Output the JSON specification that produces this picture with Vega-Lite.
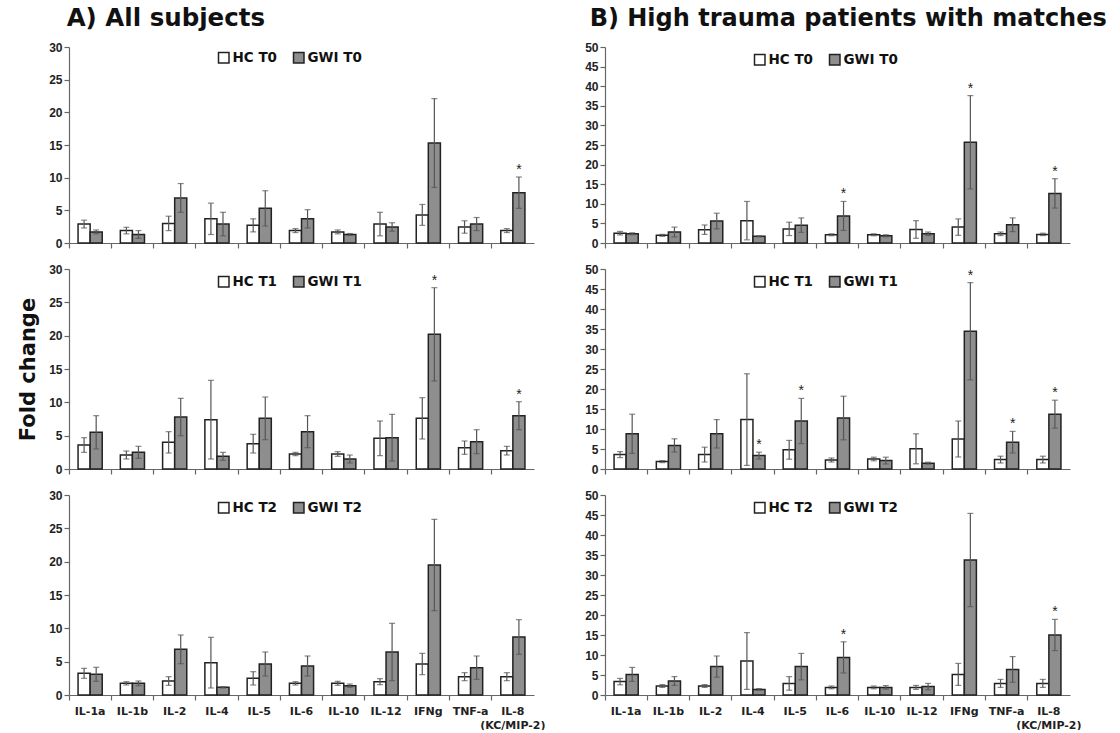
{
  "$schema": "https://vega.github.io/schema/vega-lite/v6.json",
  "background": "white",
  "padding": {"left": 17, "top": 5, "right": 0, "bottom": 0},
  "config": {
    "view": {"stroke": null},
    "font": "Liberation Sans",
    "axis": {
      "labelFont": "Liberation Sans", "labelFontWeight": "bold", "labelColor": "#222",
      "domainColor": "#666", "tickColor": "#666", "tickSize": 5, "grid": false,
      "domainWidth": 1.2, "tickWidth": 1.2, "labelPadding": 2, "labelOverlap": false
    },
    "legend": {
      "orient": "none", "legendX": 148, "legendY": 4, "direction": "horizontal", "title": null,
      "symbolType": "square", "symbolSize": 110, "symbolStrokeColor": "#222", "symbolStrokeWidth": 1.5,
      "labelFont": "DejaVu Sans", "labelFontWeight": "bold", "labelFontSize": 13.5, "labelColor": "#111",
      "columnPadding": 12, "labelOffset": 2
    }
  },
  "data": {"values": [
    {"p":"A1","c":"IL-1a","g":"HC","s":"HC T0","m":2.9,"lo":2.3,"hi":3.5,"sig":0},
    {"p":"A1","c":"IL-1a","g":"GWI","s":"GWI T0","m":1.7,"lo":1.4,"hi":2.0,"sig":0},
    {"p":"A1","c":"IL-1b","g":"HC","s":"HC T0","m":1.9,"lo":1.4,"hi":2.4,"sig":0},
    {"p":"A1","c":"IL-1b","g":"GWI","s":"GWI T0","m":1.3,"lo":0.7,"hi":1.9,"sig":0},
    {"p":"A1","c":"IL-2","g":"HC","s":"HC T0","m":3.0,"lo":1.9,"hi":4.1,"sig":0},
    {"p":"A1","c":"IL-2","g":"GWI","s":"GWI T0","m":6.9,"lo":4.7,"hi":9.1,"sig":0},
    {"p":"A1","c":"IL-4","g":"HC","s":"HC T0","m":3.7,"lo":1.3,"hi":6.1,"sig":0},
    {"p":"A1","c":"IL-4","g":"GWI","s":"GWI T0","m":2.9,"lo":1.1,"hi":4.7,"sig":0},
    {"p":"A1","c":"IL-5","g":"HC","s":"HC T0","m":2.7,"lo":1.7,"hi":3.7,"sig":0},
    {"p":"A1","c":"IL-5","g":"GWI","s":"GWI T0","m":5.3,"lo":2.6,"hi":8.0,"sig":0},
    {"p":"A1","c":"IL-6","g":"HC","s":"HC T0","m":1.9,"lo":1.6,"hi":2.2,"sig":0},
    {"p":"A1","c":"IL-6","g":"GWI","s":"GWI T0","m":3.7,"lo":2.3,"hi":5.1,"sig":0},
    {"p":"A1","c":"IL-10","g":"HC","s":"HC T0","m":1.7,"lo":1.4,"hi":2.0,"sig":0},
    {"p":"A1","c":"IL-10","g":"GWI","s":"GWI T0","m":1.3,"lo":1.15,"hi":1.45,"sig":0},
    {"p":"A1","c":"IL-12","g":"HC","s":"HC T0","m":2.9,"lo":1.1,"hi":4.7,"sig":0},
    {"p":"A1","c":"IL-12","g":"GWI","s":"GWI T0","m":2.45,"lo":1.8,"hi":3.1,"sig":0},
    {"p":"A1","c":"IFNg","g":"HC","s":"HC T0","m":4.3,"lo":2.7,"hi":5.9,"sig":0},
    {"p":"A1","c":"IFNg","g":"GWI","s":"GWI T0","m":15.3,"lo":8.5,"hi":22.1,"sig":0},
    {"p":"A1","c":"TNF-a","g":"HC","s":"HC T0","m":2.45,"lo":1.5,"hi":3.4,"sig":0},
    {"p":"A1","c":"TNF-a","g":"GWI","s":"GWI T0","m":2.9,"lo":1.9,"hi":3.9,"sig":0},
    {"p":"A1","c":"IL-8","g":"HC","s":"HC T0","m":1.9,"lo":1.6,"hi":2.2,"sig":0},
    {"p":"A1","c":"IL-8","g":"GWI","s":"GWI T0","m":7.7,"lo":5.3,"hi":10.1,"sig":1},

    {"p":"A2","c":"IL-1a","g":"HC","s":"HC T1","m":3.6,"lo":2.5,"hi":4.7,"sig":0},
    {"p":"A2","c":"IL-1a","g":"GWI","s":"GWI T1","m":5.5,"lo":3.0,"hi":8.0,"sig":0},
    {"p":"A2","c":"IL-1b","g":"HC","s":"HC T1","m":2.1,"lo":1.5,"hi":2.7,"sig":0},
    {"p":"A2","c":"IL-1b","g":"GWI","s":"GWI T1","m":2.5,"lo":1.6,"hi":3.4,"sig":0},
    {"p":"A2","c":"IL-2","g":"HC","s":"HC T1","m":4.0,"lo":2.4,"hi":5.6,"sig":0},
    {"p":"A2","c":"IL-2","g":"GWI","s":"GWI T1","m":7.8,"lo":5.0,"hi":10.6,"sig":0},
    {"p":"A2","c":"IL-4","g":"HC","s":"HC T1","m":7.4,"lo":1.5,"hi":13.3,"sig":0},
    {"p":"A2","c":"IL-4","g":"GWI","s":"GWI T1","m":1.9,"lo":1.3,"hi":2.5,"sig":0},
    {"p":"A2","c":"IL-5","g":"HC","s":"HC T1","m":3.8,"lo":2.4,"hi":5.2,"sig":0},
    {"p":"A2","c":"IL-5","g":"GWI","s":"GWI T1","m":7.6,"lo":4.4,"hi":10.8,"sig":0},
    {"p":"A2","c":"IL-6","g":"HC","s":"HC T1","m":2.25,"lo":2.0,"hi":2.5,"sig":0},
    {"p":"A2","c":"IL-6","g":"GWI","s":"GWI T1","m":5.6,"lo":3.2,"hi":8.0,"sig":0},
    {"p":"A2","c":"IL-10","g":"HC","s":"HC T1","m":2.25,"lo":1.9,"hi":2.6,"sig":0},
    {"p":"A2","c":"IL-10","g":"GWI","s":"GWI T1","m":1.5,"lo":0.9,"hi":2.1,"sig":0},
    {"p":"A2","c":"IL-12","g":"HC","s":"HC T1","m":4.6,"lo":2.0,"hi":7.2,"sig":0},
    {"p":"A2","c":"IL-12","g":"GWI","s":"GWI T1","m":4.7,"lo":1.2,"hi":8.2,"sig":0},
    {"p":"A2","c":"IFNg","g":"HC","s":"HC T1","m":7.6,"lo":4.5,"hi":10.7,"sig":0},
    {"p":"A2","c":"IFNg","g":"GWI","s":"GWI T1","m":20.2,"lo":13.2,"hi":27.2,"sig":1},
    {"p":"A2","c":"TNF-a","g":"HC","s":"HC T1","m":3.2,"lo":2.2,"hi":4.2,"sig":0},
    {"p":"A2","c":"TNF-a","g":"GWI","s":"GWI T1","m":4.1,"lo":2.3,"hi":5.9,"sig":0},
    {"p":"A2","c":"IL-8","g":"HC","s":"HC T1","m":2.75,"lo":2.1,"hi":3.4,"sig":0},
    {"p":"A2","c":"IL-8","g":"GWI","s":"GWI T1","m":8.0,"lo":5.9,"hi":10.1,"sig":1},

    {"p":"A3","c":"IL-1a","g":"HC","s":"HC T2","m":3.25,"lo":2.5,"hi":4.0,"sig":0},
    {"p":"A3","c":"IL-1a","g":"GWI","s":"GWI T2","m":3.1,"lo":2.05,"hi":4.15,"sig":0},
    {"p":"A3","c":"IL-1b","g":"HC","s":"HC T2","m":1.75,"lo":1.5,"hi":2.0,"sig":0},
    {"p":"A3","c":"IL-1b","g":"GWI","s":"GWI T2","m":1.75,"lo":1.4,"hi":2.1,"sig":0},
    {"p":"A3","c":"IL-2","g":"HC","s":"HC T2","m":2.1,"lo":1.45,"hi":2.75,"sig":0},
    {"p":"A3","c":"IL-2","g":"GWI","s":"GWI T2","m":6.85,"lo":4.7,"hi":9.0,"sig":0},
    {"p":"A3","c":"IL-4","g":"HC","s":"HC T2","m":4.85,"lo":1.05,"hi":8.65,"sig":0},
    {"p":"A3","c":"IL-4","g":"GWI","s":"GWI T2","m":1.15,"lo":1.05,"hi":1.25,"sig":0},
    {"p":"A3","c":"IL-5","g":"HC","s":"HC T2","m":2.5,"lo":1.5,"hi":3.5,"sig":0},
    {"p":"A3","c":"IL-5","g":"GWI","s":"GWI T2","m":4.65,"lo":2.85,"hi":6.45,"sig":0},
    {"p":"A3","c":"IL-6","g":"HC","s":"HC T2","m":1.75,"lo":1.5,"hi":2.0,"sig":0},
    {"p":"A3","c":"IL-6","g":"GWI","s":"GWI T2","m":4.35,"lo":2.85,"hi":5.85,"sig":0},
    {"p":"A3","c":"IL-10","g":"HC","s":"HC T2","m":1.75,"lo":1.45,"hi":2.05,"sig":0},
    {"p":"A3","c":"IL-10","g":"GWI","s":"GWI T2","m":1.4,"lo":1.15,"hi":1.65,"sig":0},
    {"p":"A3","c":"IL-12","g":"HC","s":"HC T2","m":2.0,"lo":1.55,"hi":2.45,"sig":0},
    {"p":"A3","c":"IL-12","g":"GWI","s":"GWI T2","m":6.45,"lo":2.15,"hi":10.75,"sig":0},
    {"p":"A3","c":"IFNg","g":"HC","s":"HC T2","m":4.65,"lo":3.05,"hi":6.25,"sig":0},
    {"p":"A3","c":"IFNg","g":"GWI","s":"GWI T2","m":19.5,"lo":12.65,"hi":26.35,"sig":0},
    {"p":"A3","c":"TNF-a","g":"HC","s":"HC T2","m":2.75,"lo":2.15,"hi":3.35,"sig":0},
    {"p":"A3","c":"TNF-a","g":"GWI","s":"GWI T2","m":4.1,"lo":2.35,"hi":5.85,"sig":0},
    {"p":"A3","c":"IL-8","g":"HC","s":"HC T2","m":2.75,"lo":2.15,"hi":3.35,"sig":0},
    {"p":"A3","c":"IL-8","g":"GWI","s":"GWI T2","m":8.7,"lo":6.1,"hi":11.3,"sig":0},

    {"p":"B1","c":"IL-1a","g":"HC","s":"HC T0","m":2.5,"lo":2.05,"hi":2.95,"sig":0},
    {"p":"B1","c":"IL-1a","g":"GWI","s":"GWI T0","m":2.35,"lo":2.1,"hi":2.6,"sig":0},
    {"p":"B1","c":"IL-1b","g":"HC","s":"HC T0","m":1.95,"lo":1.7,"hi":2.2,"sig":0},
    {"p":"B1","c":"IL-1b","g":"GWI","s":"GWI T0","m":2.8,"lo":1.55,"hi":4.05,"sig":0},
    {"p":"B1","c":"IL-2","g":"HC","s":"HC T0","m":3.4,"lo":2.2,"hi":4.6,"sig":0},
    {"p":"B1","c":"IL-2","g":"GWI","s":"GWI T0","m":5.6,"lo":3.6,"hi":7.6,"sig":0},
    {"p":"B1","c":"IL-4","g":"HC","s":"HC T0","m":5.7,"lo":0.8,"hi":10.6,"sig":0},
    {"p":"B1","c":"IL-4","g":"GWI","s":"GWI T0","m":1.7,"lo":1.55,"hi":1.85,"sig":0},
    {"p":"B1","c":"IL-5","g":"HC","s":"HC T0","m":3.6,"lo":1.9,"hi":5.3,"sig":0},
    {"p":"B1","c":"IL-5","g":"GWI","s":"GWI T0","m":4.55,"lo":2.7,"hi":6.4,"sig":0},
    {"p":"B1","c":"IL-6","g":"HC","s":"HC T0","m":2.1,"lo":1.85,"hi":2.35,"sig":0},
    {"p":"B1","c":"IL-6","g":"GWI","s":"GWI T0","m":6.9,"lo":3.2,"hi":10.6,"sig":1},
    {"p":"B1","c":"IL-10","g":"HC","s":"HC T0","m":2.1,"lo":1.85,"hi":2.35,"sig":0},
    {"p":"B1","c":"IL-10","g":"GWI","s":"GWI T0","m":1.85,"lo":1.6,"hi":2.1,"sig":0},
    {"p":"B1","c":"IL-12","g":"HC","s":"HC T0","m":3.45,"lo":1.2,"hi":5.7,"sig":0},
    {"p":"B1","c":"IL-12","g":"GWI","s":"GWI T0","m":2.35,"lo":1.9,"hi":2.8,"sig":0},
    {"p":"B1","c":"IFNg","g":"HC","s":"HC T0","m":4.05,"lo":1.95,"hi":6.15,"sig":0},
    {"p":"B1","c":"IFNg","g":"GWI","s":"GWI T0","m":25.7,"lo":13.8,"hi":37.6,"sig":1},
    {"p":"B1","c":"TNF-a","g":"HC","s":"HC T0","m":2.35,"lo":1.9,"hi":2.8,"sig":0},
    {"p":"B1","c":"TNF-a","g":"GWI","s":"GWI T0","m":4.65,"lo":2.9,"hi":6.4,"sig":0},
    {"p":"B1","c":"IL-8","g":"HC","s":"HC T0","m":2.2,"lo":1.9,"hi":2.5,"sig":0},
    {"p":"B1","c":"IL-8","g":"GWI","s":"GWI T0","m":12.65,"lo":8.9,"hi":16.4,"sig":1},

    {"p":"B2","c":"IL-1a","g":"HC","s":"HC T1","m":3.6,"lo":2.85,"hi":4.35,"sig":0},
    {"p":"B2","c":"IL-1a","g":"GWI","s":"GWI T1","m":8.8,"lo":3.9,"hi":13.7,"sig":0},
    {"p":"B2","c":"IL-1b","g":"HC","s":"HC T1","m":1.85,"lo":1.6,"hi":2.1,"sig":0},
    {"p":"B2","c":"IL-1b","g":"GWI","s":"GWI T1","m":5.9,"lo":4.25,"hi":7.55,"sig":0},
    {"p":"B2","c":"IL-2","g":"HC","s":"HC T1","m":3.6,"lo":1.75,"hi":5.45,"sig":0},
    {"p":"B2","c":"IL-2","g":"GWI","s":"GWI T1","m":8.8,"lo":5.25,"hi":12.35,"sig":0},
    {"p":"B2","c":"IL-4","g":"HC","s":"HC T1","m":12.35,"lo":0.9,"hi":23.8,"sig":0},
    {"p":"B2","c":"IL-4","g":"GWI","s":"GWI T1","m":3.35,"lo":2.5,"hi":4.2,"sig":1},
    {"p":"B2","c":"IL-5","g":"HC","s":"HC T1","m":4.8,"lo":2.45,"hi":7.15,"sig":0},
    {"p":"B2","c":"IL-5","g":"GWI","s":"GWI T1","m":12.0,"lo":6.35,"hi":17.65,"sig":1},
    {"p":"B2","c":"IL-6","g":"HC","s":"HC T1","m":2.25,"lo":1.75,"hi":2.75,"sig":0},
    {"p":"B2","c":"IL-6","g":"GWI","s":"GWI T1","m":12.75,"lo":7.3,"hi":18.2,"sig":0},
    {"p":"B2","c":"IL-10","g":"HC","s":"HC T1","m":2.5,"lo":2.05,"hi":2.95,"sig":0},
    {"p":"B2","c":"IL-10","g":"GWI","s":"GWI T1","m":2.1,"lo":1.25,"hi":2.95,"sig":0},
    {"p":"B2","c":"IL-12","g":"HC","s":"HC T1","m":5.05,"lo":1.3,"hi":8.8,"sig":0},
    {"p":"B2","c":"IL-12","g":"GWI","s":"GWI T1","m":1.45,"lo":1.2,"hi":1.7,"sig":0},
    {"p":"B2","c":"IFNg","g":"HC","s":"HC T1","m":7.5,"lo":3.0,"hi":12.0,"sig":0},
    {"p":"B2","c":"IFNg","g":"GWI","s":"GWI T1","m":34.45,"lo":22.3,"hi":46.6,"sig":1},
    {"p":"B2","c":"TNF-a","g":"HC","s":"HC T1","m":2.35,"lo":1.5,"hi":3.2,"sig":0},
    {"p":"B2","c":"TNF-a","g":"GWI","s":"GWI T1","m":6.7,"lo":4.0,"hi":9.4,"sig":1},
    {"p":"B2","c":"IL-8","g":"HC","s":"HC T1","m":2.35,"lo":1.5,"hi":3.2,"sig":0},
    {"p":"B2","c":"IL-8","g":"GWI","s":"GWI T1","m":13.7,"lo":10.2,"hi":17.2,"sig":1},

    {"p":"B3","c":"IL-1a","g":"HC","s":"HC T2","m":3.35,"lo":2.55,"hi":4.15,"sig":0},
    {"p":"B3","c":"IL-1a","g":"GWI","s":"GWI T2","m":5.15,"lo":3.4,"hi":6.9,"sig":0},
    {"p":"B3","c":"IL-1b","g":"HC","s":"HC T2","m":2.25,"lo":1.9,"hi":2.6,"sig":0},
    {"p":"B3","c":"IL-1b","g":"GWI","s":"GWI T2","m":3.5,"lo":2.4,"hi":4.6,"sig":0},
    {"p":"B3","c":"IL-2","g":"HC","s":"HC T2","m":2.25,"lo":1.9,"hi":2.6,"sig":0},
    {"p":"B3","c":"IL-2","g":"GWI","s":"GWI T2","m":7.1,"lo":4.45,"hi":9.75,"sig":0},
    {"p":"B3","c":"IL-4","g":"HC","s":"HC T2","m":8.5,"lo":1.4,"hi":15.6,"sig":0},
    {"p":"B3","c":"IL-4","g":"GWI","s":"GWI T2","m":1.4,"lo":1.2,"hi":1.6,"sig":0},
    {"p":"B3","c":"IL-5","g":"HC","s":"HC T2","m":2.9,"lo":1.2,"hi":4.6,"sig":0},
    {"p":"B3","c":"IL-5","g":"GWI","s":"GWI T2","m":7.1,"lo":3.8,"hi":10.4,"sig":0},
    {"p":"B3","c":"IL-6","g":"HC","s":"HC T2","m":1.9,"lo":1.55,"hi":2.25,"sig":0},
    {"p":"B3","c":"IL-6","g":"GWI","s":"GWI T2","m":9.4,"lo":5.5,"hi":13.3,"sig":1},
    {"p":"B3","c":"IL-10","g":"HC","s":"HC T2","m":1.9,"lo":1.55,"hi":2.25,"sig":0},
    {"p":"B3","c":"IL-10","g":"GWI","s":"GWI T2","m":1.9,"lo":1.45,"hi":2.35,"sig":0},
    {"p":"B3","c":"IL-12","g":"HC","s":"HC T2","m":1.9,"lo":1.4,"hi":2.4,"sig":0},
    {"p":"B3","c":"IL-12","g":"GWI","s":"GWI T2","m":2.1,"lo":1.3,"hi":2.9,"sig":0},
    {"p":"B3","c":"IFNg","g":"HC","s":"HC T2","m":5.15,"lo":2.4,"hi":7.9,"sig":0},
    {"p":"B3","c":"IFNg","g":"GWI","s":"GWI T2","m":33.75,"lo":22.1,"hi":45.4,"sig":0},
    {"p":"B3","c":"TNF-a","g":"HC","s":"HC T2","m":2.9,"lo":1.9,"hi":3.9,"sig":0},
    {"p":"B3","c":"TNF-a","g":"GWI","s":"GWI T2","m":6.4,"lo":3.2,"hi":9.6,"sig":0},
    {"p":"B3","c":"IL-8","g":"HC","s":"HC T2","m":2.9,"lo":1.9,"hi":3.9,"sig":0},
    {"p":"B3","c":"IL-8","g":"GWI","s":"GWI T2","m":15.0,"lo":11.1,"hi":18.9,"sig":1}
  ]},
  "resolve": {"scale": {"color": "independent", "y": "independent"}, "legend": {"color": "independent"}},
  "spacing": 38,
  "hconcat": [
    {
      "title": {"text": "A) All subjects", "anchor": "start", "fontSize": 24.5, "fontWeight": "bold", "font": "DejaVu Sans", "color": "#111", "offset": 10, "dx": 49},
      "spacing": 14,
      "resolve": {"scale": {"color": "independent", "y": "independent"}, "legend": {"color": "independent"}},
      "vconcat": [
        {
          "width": 465, "height": 196,
          "transform": [{"filter": "datum.p == 'A1'"}],
          "encoding": {
            "x": {"field": "c", "type": "nominal", "sort": ["IL-1a","IL-1b","IL-2","IL-4","IL-5","IL-6","IL-10","IL-12","IFNg","TNF-a","IL-8"], "scale": {"paddingInner": 0, "paddingOuter": 0}, "axis": {"title": null, "labels": false, "bandPosition": 0}},
            "xOffset": {"field": "g", "type": "nominal", "sort": ["HC","GWI"], "scale": {"paddingInner": 0, "paddingOuter": 0.75}}
          },
          "layer": [
            {"mark": {"type": "bar", "stroke": "#222", "strokeWidth": 1.5},
             "encoding": {
               "y": {"field": "m", "type": "quantitative", "scale": {"domain": [0, 30]}, "axis": {"title": null, "values": [0,5,10,15,20,25,30], "labelFontSize": 12}},
               "color": {"field": "s", "type": "nominal", "scale": {"domain": ["HC T0","GWI T0"], "range": ["white","#8e8e8e"]}, "legend": {"legendY": 4}}
             }},
            {"mark": {"type": "rule", "color": "#555", "strokeWidth": 1.2}, "encoding": {"y": {"field": "lo", "type": "quantitative", "scale": {"domain": [0, 30]}, "axis": {"title": null, "values": [0,5,10,15,20,25,30], "labelFontSize": 12}}, "y2": {"field": "hi"}}},
            {"mark": {"type": "tick", "color": "#555", "size": 6, "thickness": 1.2}, "encoding": {"y": {"field": "hi", "type": "quantitative", "scale": {"domain": [0, 30]}, "axis": {"title": null, "values": [0,5,10,15,20,25,30], "labelFontSize": 12}}}},
            {"mark": {"type": "tick", "color": "#555", "size": 6, "thickness": 1.2}, "encoding": {"y": {"field": "lo", "type": "quantitative", "scale": {"domain": [0, 30]}, "axis": {"title": null, "values": [0,5,10,15,20,25,30], "labelFontSize": 12}}}},
            {"transform": [{"filter": "datum.sig == 1"}], "mark": {"type": "text", "text": "*", "dy": -7, "fontSize": 14, "color": "#222"}, "encoding": {"y": {"field": "hi", "type": "quantitative", "scale": {"domain": [0, 30]}, "axis": {"title": null, "values": [0,5,10,15,20,25,30], "labelFontSize": 12}}}}
          ]
        },
        {
          "width": 465, "height": 200,
          "transform": [{"filter": "datum.p == 'A2'"}],
          "encoding": {
            "x": {"field": "c", "type": "nominal", "sort": ["IL-1a","IL-1b","IL-2","IL-4","IL-5","IL-6","IL-10","IL-12","IFNg","TNF-a","IL-8"], "scale": {"paddingInner": 0, "paddingOuter": 0}, "axis": {"title": null, "labels": false, "bandPosition": 0}},
            "xOffset": {"field": "g", "type": "nominal", "sort": ["HC","GWI"], "scale": {"paddingInner": 0, "paddingOuter": 0.75}}
          },
          "layer": [
            {"mark": {"type": "bar", "stroke": "#222", "strokeWidth": 1.5},
             "encoding": {
               "y": {"field": "m", "type": "quantitative", "scale": {"domain": [0, 30]}, "axis": {"title": "Fold change", "titleFontSize": 21, "titleFontWeight": "bold", "titleFont": "DejaVu Sans", "titleColor": "#111", "titlePadding": 10, "values": [0,5,10,15,20,25,30], "labelFontSize": 12}},
               "color": {"field": "s", "type": "nominal", "scale": {"domain": ["HC T1","GWI T1"], "range": ["white","#8e8e8e"]}, "legend": {"legendY": 6}}
             }},
            {"mark": {"type": "rule", "color": "#555", "strokeWidth": 1.2}, "encoding": {"y": {"field": "lo", "type": "quantitative", "scale": {"domain": [0, 30]}, "axis": {"title": "Fold change", "titleFontSize": 21, "titleFontWeight": "bold", "titleFont": "DejaVu Sans", "titleColor": "#111", "titlePadding": 10, "values": [0,5,10,15,20,25,30], "labelFontSize": 12}}, "y2": {"field": "hi"}}},
            {"mark": {"type": "tick", "color": "#555", "size": 6, "thickness": 1.2}, "encoding": {"y": {"field": "hi", "type": "quantitative", "scale": {"domain": [0, 30]}, "axis": {"title": "Fold change", "titleFontSize": 21, "titleFontWeight": "bold", "titleFont": "DejaVu Sans", "titleColor": "#111", "titlePadding": 10, "values": [0,5,10,15,20,25,30], "labelFontSize": 12}}}},
            {"mark": {"type": "tick", "color": "#555", "size": 6, "thickness": 1.2}, "encoding": {"y": {"field": "lo", "type": "quantitative", "scale": {"domain": [0, 30]}, "axis": {"title": "Fold change", "titleFontSize": 21, "titleFontWeight": "bold", "titleFont": "DejaVu Sans", "titleColor": "#111", "titlePadding": 10, "values": [0,5,10,15,20,25,30], "labelFontSize": 12}}}},
            {"transform": [{"filter": "datum.sig == 1"}], "mark": {"type": "text", "text": "*", "dy": -7, "fontSize": 14, "color": "#222"}, "encoding": {"y": {"field": "hi", "type": "quantitative", "scale": {"domain": [0, 30]}, "axis": {"title": "Fold change", "titleFontSize": 21, "titleFontWeight": "bold", "titleFont": "DejaVu Sans", "titleColor": "#111", "titlePadding": 10, "values": [0,5,10,15,20,25,30], "labelFontSize": 12}}}}
          ]
        },
        {
          "width": 465, "height": 200,
          "transform": [{"filter": "datum.p == 'A3'"}],
          "encoding": {
            "x": {"field": "c", "type": "nominal", "sort": ["IL-1a","IL-1b","IL-2","IL-4","IL-5","IL-6","IL-10","IL-12","IFNg","TNF-a","IL-8"], "scale": {"paddingInner": 0, "paddingOuter": 0}, "axis": {"title": null, "labelAngle": 0, "labelFont": "DejaVu Sans", "labelFontSize": 11, "labelPadding": 5, "labelLineHeight": 14, "bandPosition": 0, "labelExpr": "datum.value == 'IL-8' ? ['IL-8', '(KC/MIP-2)'] : datum.value"}},
            "xOffset": {"field": "g", "type": "nominal", "sort": ["HC","GWI"], "scale": {"paddingInner": 0, "paddingOuter": 0.75}}
          },
          "layer": [
            {"mark": {"type": "bar", "stroke": "#222", "strokeWidth": 1.5},
             "encoding": {
               "y": {"field": "m", "type": "quantitative", "scale": {"domain": [0, 30]}, "axis": {"title": null, "values": [0,5,10,15,20,25,30], "labelFontSize": 12}},
               "color": {"field": "s", "type": "nominal", "scale": {"domain": ["HC T2","GWI T2"], "range": ["white","#8e8e8e"]}, "legend": {"legendY": 6}}
             }},
            {"mark": {"type": "rule", "color": "#555", "strokeWidth": 1.2}, "encoding": {"y": {"field": "lo", "type": "quantitative", "scale": {"domain": [0, 30]}, "axis": {"title": null, "values": [0,5,10,15,20,25,30], "labelFontSize": 12}}, "y2": {"field": "hi"}}},
            {"mark": {"type": "tick", "color": "#555", "size": 6, "thickness": 1.2}, "encoding": {"y": {"field": "hi", "type": "quantitative", "scale": {"domain": [0, 30]}, "axis": {"title": null, "values": [0,5,10,15,20,25,30], "labelFontSize": 12}}}},
            {"mark": {"type": "tick", "color": "#555", "size": 6, "thickness": 1.2}, "encoding": {"y": {"field": "lo", "type": "quantitative", "scale": {"domain": [0, 30]}, "axis": {"title": null, "values": [0,5,10,15,20,25,30], "labelFontSize": 12}}}},
            {"transform": [{"filter": "datum.sig == 1"}], "mark": {"type": "text", "text": "*", "dy": -7, "fontSize": 14, "color": "#222"}, "encoding": {"y": {"field": "hi", "type": "quantitative", "scale": {"domain": [0, 30]}, "axis": {"title": null, "values": [0,5,10,15,20,25,30], "labelFontSize": 12}}}}
          ]
        }
      ]
    },
    {
      "title": {"text": "B) High trauma patients with matches", "anchor": "start", "fontSize": 24, "fontWeight": "bold", "font": "DejaVu Sans", "color": "#111", "offset": 10, "dx": 5},
      "spacing": 14,
      "resolve": {"scale": {"color": "independent", "y": "independent"}, "legend": {"color": "independent"}},
      "vconcat": [
        {
          "width": 465, "height": 196,
          "transform": [{"filter": "datum.p == 'B1'"}],
          "encoding": {
            "x": {"field": "c", "type": "nominal", "sort": ["IL-1a","IL-1b","IL-2","IL-4","IL-5","IL-6","IL-10","IL-12","IFNg","TNF-a","IL-8"], "scale": {"paddingInner": 0, "paddingOuter": 0}, "axis": {"title": null, "labels": false, "bandPosition": 0}},
            "xOffset": {"field": "g", "type": "nominal", "sort": ["HC","GWI"], "scale": {"paddingInner": 0, "paddingOuter": 0.75}}
          },
          "layer": [
            {"mark": {"type": "bar", "stroke": "#222", "strokeWidth": 1.5},
             "encoding": {
               "y": {"field": "m", "type": "quantitative", "scale": {"domain": [0, 50]}, "axis": {"title": null, "values": [0,5,10,15,20,25,30,35,40,45,50], "labelFontSize": 12}},
               "color": {"field": "s", "type": "nominal", "scale": {"domain": ["HC T0","GWI T0"], "range": ["white","#8e8e8e"]}, "legend": {"legendY": 6}}
             }},
            {"mark": {"type": "rule", "color": "#555", "strokeWidth": 1.2}, "encoding": {"y": {"field": "lo", "type": "quantitative", "scale": {"domain": [0, 50]}, "axis": {"title": null, "values": [0,5,10,15,20,25,30,35,40,45,50], "labelFontSize": 12}}, "y2": {"field": "hi"}}},
            {"mark": {"type": "tick", "color": "#555", "size": 6, "thickness": 1.2}, "encoding": {"y": {"field": "hi", "type": "quantitative", "scale": {"domain": [0, 50]}, "axis": {"title": null, "values": [0,5,10,15,20,25,30,35,40,45,50], "labelFontSize": 12}}}},
            {"mark": {"type": "tick", "color": "#555", "size": 6, "thickness": 1.2}, "encoding": {"y": {"field": "lo", "type": "quantitative", "scale": {"domain": [0, 50]}, "axis": {"title": null, "values": [0,5,10,15,20,25,30,35,40,45,50], "labelFontSize": 12}}}},
            {"transform": [{"filter": "datum.sig == 1"}], "mark": {"type": "text", "text": "*", "dy": -7, "fontSize": 14, "color": "#222"}, "encoding": {"y": {"field": "hi", "type": "quantitative", "scale": {"domain": [0, 50]}, "axis": {"title": null, "values": [0,5,10,15,20,25,30,35,40,45,50], "labelFontSize": 12}}}}
          ]
        },
        {
          "width": 465, "height": 200,
          "transform": [{"filter": "datum.p == 'B2'"}],
          "encoding": {
            "x": {"field": "c", "type": "nominal", "sort": ["IL-1a","IL-1b","IL-2","IL-4","IL-5","IL-6","IL-10","IL-12","IFNg","TNF-a","IL-8"], "scale": {"paddingInner": 0, "paddingOuter": 0}, "axis": {"title": null, "labels": false, "bandPosition": 0}},
            "xOffset": {"field": "g", "type": "nominal", "sort": ["HC","GWI"], "scale": {"paddingInner": 0, "paddingOuter": 0.75}}
          },
          "layer": [
            {"mark": {"type": "bar", "stroke": "#222", "strokeWidth": 1.5},
             "encoding": {
               "y": {"field": "m", "type": "quantitative", "scale": {"domain": [0, 50]}, "axis": {"title": null, "values": [0,5,10,15,20,25,30,35,40,45,50], "labelFontSize": 12}},
               "color": {"field": "s", "type": "nominal", "scale": {"domain": ["HC T1","GWI T1"], "range": ["white","#8e8e8e"]}, "legend": {"legendY": 6}}
             }},
            {"mark": {"type": "rule", "color": "#555", "strokeWidth": 1.2}, "encoding": {"y": {"field": "lo", "type": "quantitative", "scale": {"domain": [0, 50]}, "axis": {"title": null, "values": [0,5,10,15,20,25,30,35,40,45,50], "labelFontSize": 12}}, "y2": {"field": "hi"}}},
            {"mark": {"type": "tick", "color": "#555", "size": 6, "thickness": 1.2}, "encoding": {"y": {"field": "hi", "type": "quantitative", "scale": {"domain": [0, 50]}, "axis": {"title": null, "values": [0,5,10,15,20,25,30,35,40,45,50], "labelFontSize": 12}}}},
            {"mark": {"type": "tick", "color": "#555", "size": 6, "thickness": 1.2}, "encoding": {"y": {"field": "lo", "type": "quantitative", "scale": {"domain": [0, 50]}, "axis": {"title": null, "values": [0,5,10,15,20,25,30,35,40,45,50], "labelFontSize": 12}}}},
            {"transform": [{"filter": "datum.sig == 1"}], "mark": {"type": "text", "text": "*", "dy": -7, "fontSize": 14, "color": "#222"}, "encoding": {"y": {"field": "hi", "type": "quantitative", "scale": {"domain": [0, 50]}, "axis": {"title": null, "values": [0,5,10,15,20,25,30,35,40,45,50], "labelFontSize": 12}}}}
          ]
        },
        {
          "width": 465, "height": 200,
          "transform": [{"filter": "datum.p == 'B3'"}],
          "encoding": {
            "x": {"field": "c", "type": "nominal", "sort": ["IL-1a","IL-1b","IL-2","IL-4","IL-5","IL-6","IL-10","IL-12","IFNg","TNF-a","IL-8"], "scale": {"paddingInner": 0, "paddingOuter": 0}, "axis": {"title": null, "labelAngle": 0, "labelFont": "DejaVu Sans", "labelFontSize": 11, "labelPadding": 5, "labelLineHeight": 14, "bandPosition": 0, "labelExpr": "datum.value == 'IL-8' ? ['IL-8', '(KC/MIP-2)'] : datum.value"}},
            "xOffset": {"field": "g", "type": "nominal", "sort": ["HC","GWI"], "scale": {"paddingInner": 0, "paddingOuter": 0.75}}
          },
          "layer": [
            {"mark": {"type": "bar", "stroke": "#222", "strokeWidth": 1.5},
             "encoding": {
               "y": {"field": "m", "type": "quantitative", "scale": {"domain": [0, 50]}, "axis": {"title": null, "values": [0,5,10,15,20,25,30,35,40,45,50], "labelFontSize": 12}},
               "color": {"field": "s", "type": "nominal", "scale": {"domain": ["HC T2","GWI T2"], "range": ["white","#8e8e8e"]}, "legend": {"legendY": 6}}
             }},
            {"mark": {"type": "rule", "color": "#555", "strokeWidth": 1.2}, "encoding": {"y": {"field": "lo", "type": "quantitative", "scale": {"domain": [0, 50]}, "axis": {"title": null, "values": [0,5,10,15,20,25,30,35,40,45,50], "labelFontSize": 12}}, "y2": {"field": "hi"}}},
            {"mark": {"type": "tick", "color": "#555", "size": 6, "thickness": 1.2}, "encoding": {"y": {"field": "hi", "type": "quantitative", "scale": {"domain": [0, 50]}, "axis": {"title": null, "values": [0,5,10,15,20,25,30,35,40,45,50], "labelFontSize": 12}}}},
            {"mark": {"type": "tick", "color": "#555", "size": 6, "thickness": 1.2}, "encoding": {"y": {"field": "lo", "type": "quantitative", "scale": {"domain": [0, 50]}, "axis": {"title": null, "values": [0,5,10,15,20,25,30,35,40,45,50], "labelFontSize": 12}}}},
            {"transform": [{"filter": "datum.sig == 1"}], "mark": {"type": "text", "text": "*", "dy": -7, "fontSize": 14, "color": "#222"}, "encoding": {"y": {"field": "hi", "type": "quantitative", "scale": {"domain": [0, 50]}, "axis": {"title": null, "values": [0,5,10,15,20,25,30,35,40,45,50], "labelFontSize": 12}}}}
          ]
        }
      ]
    }
  ]
}
